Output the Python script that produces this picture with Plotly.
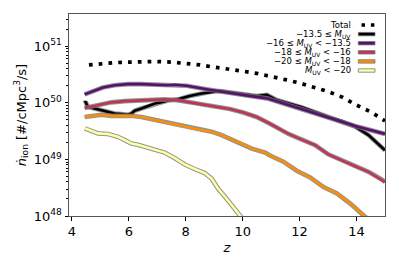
import plotly.graph_objects as go

# ---------------- data ----------------
z_total = [4.6, 5.0, 5.5, 6.0, 6.5, 7.0, 7.5, 8.0, 8.5, 9.0, 9.5, 10.0, 10.5,
           11.0, 11.5, 12.0, 12.5, 13.0, 13.5, 14.0, 14.5, 15.0]
n_total = [4.68e50, 4.90e50, 5.13e50, 5.25e50, 5.37e50, 5.37e50, 5.25e50, 5.01e50,
           4.68e50, 4.27e50, 3.98e50, 3.63e50, 3.31e50, 2.95e50, 2.57e50, 2.24e50,
           1.91e50, 1.58e50, 1.26e50, 9.12e49, 6.92e49, 4.79e49]

z_m135 = [4.45, 4.48, 4.56, 4.80, 5.04, 5.27, 5.50, 5.74, 5.97, 6.09, 6.21, 6.44, 6.68,
          6.91, 7.15, 7.38, 7.62, 7.79, 8.14, 8.50, 8.85, 9.20, 9.79, 10.49, 10.85,
          11.20, 12.08, 13.01, 13.49, 13.95, 14.42, 14.90, 15.00]
n_m135 = [1.00e50, 1.05e50, 8.51e49, 7.94e49, 7.24e49, 6.76e49, 6.46e49, 6.31e49, 6.17e49,
          6.46e49, 7.24e49, 7.94e49, 8.71e49, 9.77e49, 1.02e50, 1.10e50, 1.12e50, 1.17e50,
          1.32e50, 1.45e50, 1.55e50, 1.62e50, 1.48e50, 1.32e50, 1.38e50, 1.12e50, 8.32e49,
          5.62e49, 4.79e49, 3.80e49, 2.69e49, 1.66e49, 1.45e49]

z_m16 = [4.45, 4.60, 4.74, 5.09, 5.50, 5.97, 6.44, 6.91, 7.38, 7.62, 8.03, 8.73, 9.44,
         10.14, 10.85, 11.30, 12.08, 13.01, 13.95, 15.00]
n_m16 = [1.41e50, 1.51e50, 1.62e50, 1.86e50, 2.04e50, 2.14e50, 2.14e50, 2.09e50, 2.04e50,
         2.09e50, 2.00e50, 1.74e50, 1.51e50, 1.35e50, 1.20e50, 1.02e50, 7.94e49, 5.50e49,
         3.89e49, 2.82e49]

z_m18 = [4.45, 4.92, 5.39, 5.86, 6.32, 6.80, 7.26, 7.62, 7.79, 8.14, 8.61, 9.08, 9.55,
         10.02, 10.49, 10.96, 11.31, 11.61, 12.08, 12.55, 13.01, 13.49, 13.95, 14.42,
         14.90, 15.00]
n_m18 = [8.13e49, 9.12e49, 1.02e50, 1.07e50, 1.10e50, 1.12e50, 1.15e50, 1.12e50, 1.10e50,
         1.02e50, 9.33e49, 8.71e49, 7.76e49, 6.76e49, 5.62e49, 4.27e49, 3.39e49, 2.82e49,
         2.24e49, 1.78e49, 1.23e49, 9.77e48, 7.59e48, 6.03e48, 4.37e48, 3.98e48]

z_m20 = [4.45, 4.68, 5.04, 5.39, 6.09, 6.44, 6.80, 7.15, 7.62, 7.97, 8.44, 8.91, 9.26,
         9.61, 9.96, 10.32, 10.79, 10.96, 11.43, 11.90, 12.37, 12.84, 13.31, 13.78,
         14.25, 14.50]
n_m20 = [5.62e49, 5.89e49, 6.17e49, 5.89e49, 5.89e49, 5.62e49, 5.13e49, 4.79e49, 4.17e49,
         3.80e49, 3.39e49, 3.09e49, 2.69e49, 2.24e49, 1.91e49, 1.55e49, 1.32e49, 1.17e49,
         9.12e48, 6.31e48, 4.79e48, 3.24e48, 2.51e48, 1.66e48, 1.02e48, 7.94e47]

z_bright = [4.45, 4.68, 4.92, 5.27, 5.62, 5.86, 6.09, 6.32, 6.68, 7.03, 7.26, 7.62, 7.97,
            8.32, 8.67, 8.91, 9.14, 9.38, 9.61, 9.85, 10.00]
n_bright = [3.55e49, 3.16e49, 2.88e49, 2.82e49, 2.51e49, 2.19e49, 1.91e49, 1.82e49, 1.62e49,
            1.45e49, 1.32e49, 1.05e49, 8.13e48, 6.76e48, 5.75e48, 4.57e48, 3.02e48, 2.19e48,
            1.55e48, 1.10e48, 8.91e47]

series_names = ["\u221213.5 \u2264 <i>M</i><sub>UV</sub>",
                "\u221216 \u2264 <i>M</i><sub>UV</sub> < \u221213.5",
                "\u221218 \u2264 <i>M</i><sub>UV</sub> < \u221216",
                "\u221220 \u2264 <i>M</i><sub>UV</sub> < \u221218",
                "<i>M</i><sub>UV</sub> < \u221220"]
series_colors = ["#000004", "#57106e", "#bc3754", "#f98e09", "#fcffa4"]
series_z = [z_m135, z_m16, z_m18, z_m20, z_bright]
series_n = [n_m135, n_m16, n_m18, n_m20, n_bright]

y_tickvals = [1e48, 1e49, 1e50, 1e51]
y_ticktext = ["10<sup>48</sup>", "10<sup>49</sup>", "10<sup>50</sup>", "10<sup>51</sup>"]
x_tickvals = [4, 6, 8, 10, 12, 14]

# ---------------- figure ----------------
FONT = "DejaVu Sans"
OUTLINE = "rgba(120,120,120,0.8)"
fig = go.Figure()

fig.add_trace(go.Scatter(x=z_total, y=n_total, mode="lines",
                         line=dict(color="black", width=3.7, dash="3.7px,6.1px"),
                         showlegend=False, hoverinfo="skip"))

for zz, nn, col in zip(series_z, series_n, series_colors):
    fig.add_trace(go.Scatter(x=zz, y=nn, mode="lines",
                             line=dict(color=OUTLINE, width=4.6),
                             showlegend=False, hoverinfo="skip"))
    fig.add_trace(go.Scatter(x=zz, y=nn, mode="lines",
                             line=dict(color=col, width=2.6),
                             showlegend=False, hoverinfo="skip"))

minor_vals = [k * 10.0 ** e for e in (48, 49, 50, 51) for k in range(2, 10)]

fig.update_layout(
    width=399, height=266,
    margin=dict(l=69, r=14, t=14, b=50, autoexpand=False),
    paper_bgcolor="white", plot_bgcolor="white",
    font=dict(family=FONT, size=13, color="black"),
)
fig.update_xaxes(range=[3.9, 15], tickvals=x_tickvals, ticks="outside", ticklen=3.5,
                 tickwidth=1, tickcolor="black", showline=True, linecolor="#555",
                 linewidth=1, mirror=True, showgrid=False, zeroline=False,
                 automargin=False, tickfont=dict(size=13),
                 title=dict(text="<i>z</i>", font=dict(size=13), standoff=4))
fig.update_yaxes(type="log", range=[48, 51.57], tickvals=y_tickvals, ticktext=y_ticktext,
                 ticks="outside", ticklen=3.5, tickwidth=1, tickcolor="black",
                 minor=dict(tickvals=minor_vals, ticks="outside", ticklen=2,
                            tickwidth=0.8, tickcolor="black", showgrid=False),
                 showline=True, linecolor="#555", linewidth=1, mirror=True,
                 showgrid=False, zeroline=False, automargin=False, tickfont=dict(size=13),
                 title=dict(text="<i>\u1e45</i><sub>ion</sub> [#/cMpc<sup>3</sup>/s]",
                            font=dict(size=13), standoff=4))

# ---------------- legend (drawn manually, matplotlib-style) ----------------
legend_labels = ["Total"] + series_names
row_y = [0.9455, 0.9005, 0.8554, 0.8104, 0.7653, 0.7203]
text_x = 0.8956
h0, h1 = 0.9155, 0.9684
hh = 0.0085
for i, (lab, yy) in enumerate(zip(legend_labels, row_y)):
    fig.add_annotation(x=text_x, y=yy, xref="paper", yref="paper", text=lab,
                       showarrow=False, xanchor="right", yanchor="middle",
                       borderpad=0, font=dict(family=FONT, size=8.5, color="black"))
    if i == 0:
        for a, b in [(0.9256, 0.9367), (0.9554, 0.9665)]:
            fig.add_shape(type="rect", xref="paper", yref="paper", x0=a, x1=b,
                          y0=yy - 0.0087, y1=yy + 0.0087, fillcolor="black",
                          line=dict(width=0))
    else:
        fig.add_shape(type="rect", xref="paper", yref="paper", x0=h0, x1=h1,
                      y0=yy - hh, y1=yy + hh, fillcolor=series_colors[i - 1],
                      line=dict(color=OUTLINE, width=1))

fig.write_html("out.html", config={"displayModeBar": False},
               post_script="document.body.style.margin='0px';"
                           "document.body.style.overflow='hidden';")
